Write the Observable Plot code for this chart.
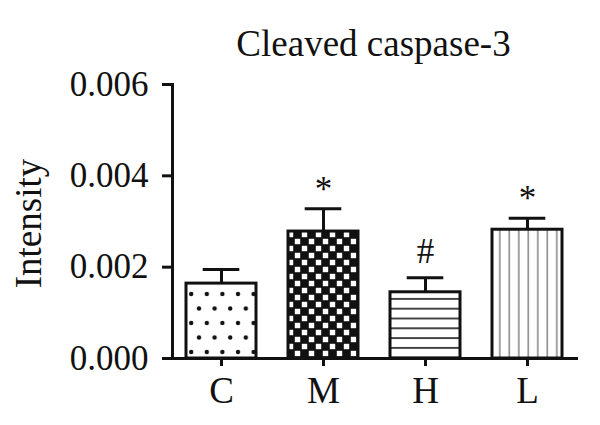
<!DOCTYPE html>
<html>
<head>
<meta charset="utf-8">
<script src="https://cdn.jsdelivr.net/npm/d3@7"></script>
<script src="https://cdn.jsdelivr.net/npm/@observablehq/plot@0.6"></script>
<style>
  html, body { margin: 0; padding: 0; background: #fff; }
</style>
</head>
<body>
<div id="chart"></div>
<script>
// ---- data ----
const groups = ["C", "M", "H", "L"];
const means = [0.00164, 0.00278, 0.00145, 0.00282];
const sems = [0.00031, 0.00050, 0.00032, 0.00025];
const marks = ["", "*", "#", "*"];
const yTicks = [0, 0.002, 0.004, 0.006];
const title = "Cleaved caspase-3";
const yLabel = "Intensity";

// ---- styles (not data) ----
const patternIds = ["dots", "checker", "hlines", "vlines"];

const data = groups.map((g, i) => ({
  group: g, mean: means[i], top: means[i] + sems[i], sig: marks[i], pat: patternIds[i]
}));

const font = "'Liberation Serif', 'Times New Roman', serif";

function defsMark() {
  const defs = d3.create("svg:defs");
  // dots
  const p1 = defs.append("pattern").attr("id", "dots").attr("patternUnits", "userSpaceOnUse")
    .attr("width", 15.6).attr("height", 29);
  p1.append("rect").attr("width", 15.6).attr("height", 29).attr("fill", "#fff");
  p1.append("circle").attr("cx", 4).attr("cy", 4).attr("r", 2.2).attr("fill", "#111");
  p1.append("circle").attr("cx", 11.8).attr("cy", 18.5).attr("r", 2.2).attr("fill", "#111");
  // checker
  const p2 = defs.append("pattern").attr("id", "checker").attr("patternUnits", "userSpaceOnUse")
    .attr("width", 14).attr("height", 14);
  p2.append("rect").attr("width", 14).attr("height", 14).attr("fill", "#111");
  p2.append("rect").attr("x", 0.8).attr("y", 0.8).attr("width", 5.4).attr("height", 5.4).attr("fill", "#fff");
  p2.append("rect").attr("x", 7.8).attr("y", 7.8).attr("width", 5.4).attr("height", 5.4).attr("fill", "#fff");
  // horizontal lines
  const p3 = defs.append("pattern").attr("id", "hlines").attr("patternUnits", "userSpaceOnUse")
    .attr("width", 10).attr("height", 9.8);
  p3.append("rect").attr("width", 10).attr("height", 9.8).attr("fill", "#fff");
  p3.append("rect").attr("x", 0).attr("y", 4).attr("width", 10).attr("height", 1.8).attr("fill", "#333");
  // vertical lines
  const p4 = defs.append("pattern").attr("id", "vlines").attr("patternUnits", "userSpaceOnUse")
    .attr("width", 9.5).attr("height", 10);
  p4.append("rect").attr("width", 9.5).attr("height", 10).attr("fill", "#fff");
  p4.append("rect").attr("x", 5).attr("y", 0).attr("width", 1.6).attr("height", 10).attr("fill", "#8c8c8c");
  return defs.node();
}

const chart = Plot.plot({
  width: 600,
  height: 425,
  marginTop: 84,
  marginBottom: 67,
  marginLeft: 172,
  marginRight: 24,
  style: { fontFamily: font, background: "#fff", color: "#111" },
  x: { domain: groups, paddingInner: 0.31, paddingOuter: 0.135, label: null },
  y: { domain: [0, 0.006], label: null },
  color: { type: "identity" },
  marks: [
    defsMark,
    Plot.barY(data, {
      x: "group", y: "mean", fill: d => `url(#${d.pat})`,
      stroke: "#111", strokeWidth: 3
    }),
    Plot.ruleX(data, { x: "group", y1: "mean", y2: "top", stroke: "#111", strokeWidth: 3 }),
    Plot.tickY(data, { x: "group", y: "top", stroke: "#111", strokeWidth: 3, insetLeft: 16.7, insetRight: 16.7 }),
    Plot.text(data, {
      filter: d => d.sig === "*", x: "group", y: "top", text: "sig",
      lineAnchor: "bottom", dy: -8, fontSize: 35, fill: "#111", fontFamily: font
    }),
    Plot.text(data, {
      filter: d => d.sig === "#", x: "group", y: "top", text: "sig",
      lineAnchor: "bottom", dy: -15, fontSize: 35, fill: "#111", fontFamily: font
    }),
    Plot.axisY({
      ticks: yTicks, tickFormat: d3.format(".3f"), tickSize: 10, tickPadding: 14,
      fontSize: 35, strokeWidth: 3, label: null, fontFamily: font
    }),
    Plot.axisX({
      tickSize: 8, tickPadding: 10, fontSize: 37, strokeWidth: 3, label: null, fontFamily: font
    }),
    Plot.frame({ anchor: "left", stroke: "#111", strokeWidth: 3 }),
    Plot.ruleY([0], { stroke: "#111", strokeWidth: 3, insetLeft: -10, insetRight: -2 }),
    Plot.text([title], {
      frameAnchor: "top", lineAnchor: "bottom", dy: -29, dx: -1,
      fontSize: 37, fill: "#111", fontFamily: font
    }),
    Plot.text([yLabel], {
      frameAnchor: "left", rotate: -90, textAnchor: "middle", lineAnchor: "bottom",
      dx: -132, dy: 2, fontSize: 37, fill: "#111", fontFamily: font
    })
  ]
});

document.getElementById("chart").appendChild(chart);
</script>
</body>
</html>
